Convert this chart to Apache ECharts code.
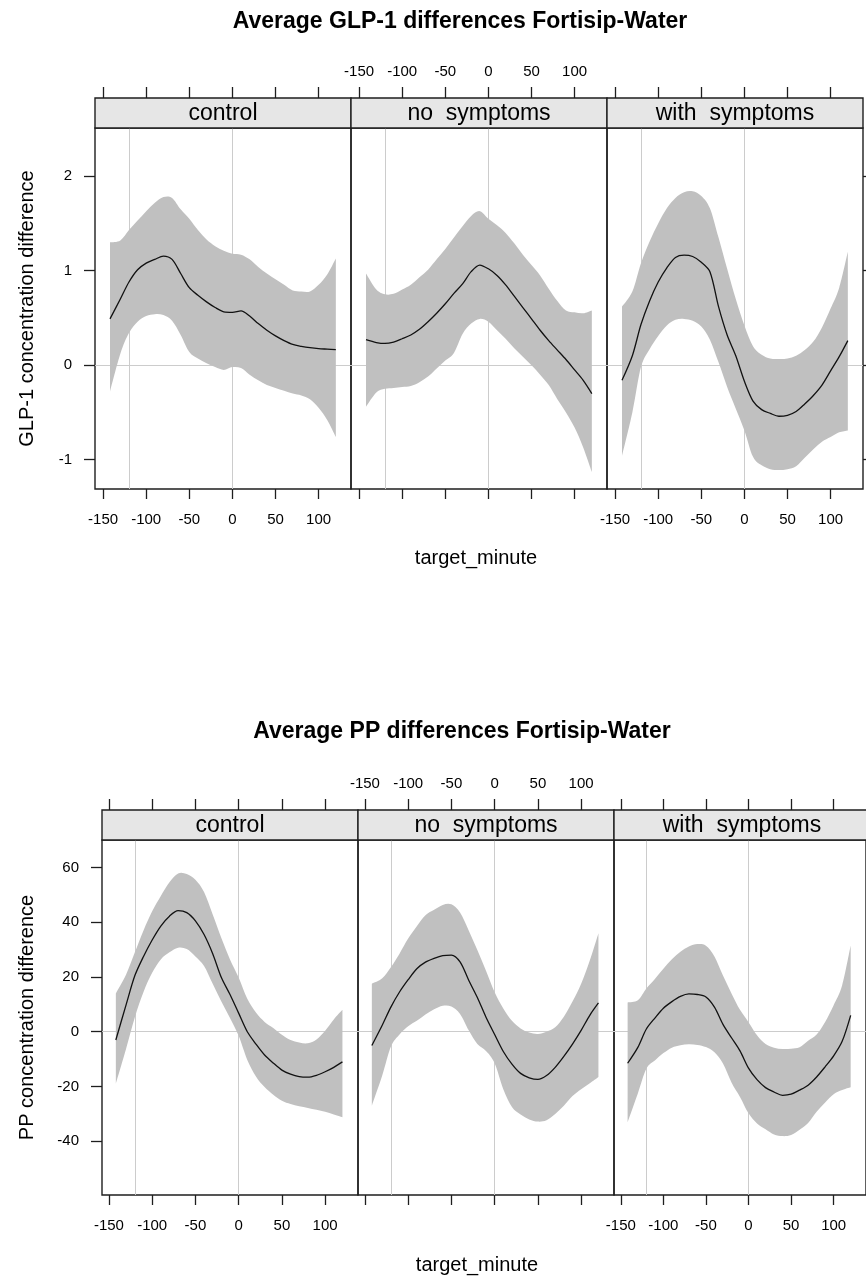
<!DOCTYPE html>
<html><head><meta charset="utf-8">
<script src="https://cdn.jsdelivr.net/npm/echarts@6/dist/echarts.min.js"></script>
<style>html,body{margin:0;padding:0;background:#fff}#c{width:866px;height:1278px}</style>
</head><body><div id="c"></div>
<script>
// ---- data ----
const X = [-142,-130,-120,-110,-100,-90,-80,-70,-60,-50,-40,-30,-20,-10,0,10,20,30,40,50,60,70,80,90,100,110,120];
const X_TICKS = [-150,-100,-50,0,50,100];
const GLP_Y_TICKS = [-1,0,1,2];
const PP_Y_TICKS = [-40,-20,0,20,40,60];
const REF_X = [-120, 0];
const REF_Y = [0];
const GROUPS = ['control', 'no  symptoms', 'with  symptoms'];

const GLP_CONTROL_MEAN = [0.49,0.70,0.88,1.01,1.08,1.12,1.155,1.12,0.97,0.82,0.74,0.67,0.61,0.565,0.56,0.575,0.52,0.44,0.37,0.31,0.26,0.22,0.20,0.185,0.175,0.17,0.165];
const GLP_CONTROL_HI   = [1.30,1.32,1.43,1.53,1.63,1.72,1.78,1.77,1.65,1.55,1.43,1.33,1.26,1.21,1.18,1.17,1.12,1.04,0.97,0.91,0.85,0.79,0.78,0.78,0.85,0.96,1.13];
const GLP_CONTROL_LO   = [-0.28,0.12,0.34,0.46,0.52,0.54,0.53,0.47,0.32,0.14,0.07,0.02,-0.02,-0.05,-0.02,-0.03,-0.10,-0.16,-0.21,-0.24,-0.27,-0.30,-0.32,-0.36,-0.45,-0.58,-0.76];

const GLP_NOSYM_MEAN = [0.27,0.24,0.23,0.245,0.28,0.32,0.38,0.46,0.55,0.65,0.76,0.86,0.99,1.06,1.02,0.95,0.85,0.73,0.61,0.49,0.37,0.26,0.16,0.06,-0.05,-0.16,-0.30];
const GLP_NOSYM_HI   = [0.97,0.80,0.75,0.755,0.80,0.85,0.93,1.01,1.12,1.23,1.35,1.47,1.58,1.63,1.55,1.48,1.40,1.29,1.17,1.06,0.95,0.81,0.68,0.58,0.56,0.55,0.58];
const GLP_NOSYM_LO   = [-0.44,-0.29,-0.25,-0.24,-0.23,-0.22,-0.18,-0.12,-0.035,0.05,0.13,0.33,0.44,0.49,0.46,0.37,0.28,0.18,0.09,0.00,-0.10,-0.21,-0.36,-0.50,-0.66,-0.87,-1.13];

const GLP_WITHSYM_MEAN = [-0.16,0.10,0.43,0.68,0.88,1.03,1.14,1.165,1.15,1.09,0.99,0.62,0.32,0.10,-0.17,-0.38,-0.47,-0.51,-0.54,-0.53,-0.49,-0.41,-0.32,-0.21,-0.06,0.09,0.26];
const GLP_WITHSYM_HI   = [0.62,0.78,1.08,1.31,1.50,1.66,1.77,1.83,1.84,1.79,1.66,1.35,1.02,0.70,0.42,0.20,0.11,0.07,0.065,0.07,0.10,0.16,0.25,0.40,0.60,0.82,1.20];
const GLP_WITHSYM_LO   = [-0.96,-0.50,-0.02,0.17,0.31,0.42,0.48,0.49,0.47,0.41,0.27,0.03,-0.23,-0.46,-0.69,-0.97,-1.06,-1.10,-1.11,-1.10,-1.07,-0.98,-0.89,-0.81,-0.76,-0.71,-0.69];

const PP_CONTROL_MEAN = [-3,10,20.5,27.5,33.5,38.6,42.2,44.2,43.5,40.5,35.5,28.5,19.8,13.6,6.8,0,-4.5,-8.5,-11.4,-14,-15.5,-16.4,-16.6,-15.9,-14.6,-13,-11];
const PP_CONTROL_HI   = [14,21,29,37,44,49.6,54.6,57.8,57.6,55.5,51,42.8,34.2,26.4,19.8,12,7,3.6,1.4,-1.1,-3,-3.9,-4.2,-2.8,0.4,4.5,8];
const PP_CONTROL_LO   = [-19,-6,5.3,14.5,21.5,26.4,29,30.7,30.2,27.5,24,17.5,11,5,-1.5,-10.3,-16.3,-20.2,-23,-25.2,-26.4,-27.2,-27.8,-28.5,-29.2,-30.2,-31.2];

const PP_NOSYM_MEAN = [-5,2.4,9,14.5,19,23,25.4,26.8,27.8,28,25.5,18.8,12.5,5.3,-1,-7.2,-11.8,-15.2,-16.8,-17.4,-16,-13,-9,-4.5,0.5,6,10.5];
const PP_NOSYM_HI   = [17.5,19.5,23.5,28.5,34,38.5,42.5,44.5,46.3,46.5,43.5,37,29.8,22.3,14.4,8.5,4,1.2,-0.3,-0.8,0,1.6,5.5,11,17.5,26,36];
const PP_NOSYM_LO   = [-27,-16,-5.5,-1,2,4,6.3,8.2,9.5,9.2,6.5,0.5,-4.5,-7,-11.5,-21,-27.5,-30.2,-32,-32.8,-32.3,-30,-27,-23.5,-21,-18.8,-16.5];

const PP_WITHSYM_MEAN = [-11.5,-5.7,1.0,5,8.6,11,12.9,13.8,13.6,12.7,9,2.7,-2.2,-7,-13.3,-17.5,-20.4,-22,-23.2,-22.8,-21.3,-19.5,-16.5,-12.8,-8.8,-3.5,6];
const PP_WITHSYM_HI   = [10.7,11.5,15.8,19.3,23,26.5,29.2,31.1,32,31.4,27.5,20.5,14,8,3.5,-1.3,-4.5,-5.8,-6.3,-6.2,-5.7,-3.3,-1,3.6,9.7,17,31.5];
const PP_WITHSYM_LO   = [-33,-22.5,-13.5,-10.5,-7.8,-5.8,-4.9,-4.6,-4.8,-5.6,-7.5,-11.6,-18.5,-23.8,-29.8,-33.5,-35.6,-37.5,-38.1,-37.7,-35.8,-33.3,-29.2,-25.8,-22.8,-21.3,-20.3];

// ---- layout / styles ----
const FONT = "'Liberation Sans', Arial, sans-serif";
const FRAME = '#1e1e1e';
const CHARTS = [
  { title: 'Average GLP-1 differences Fortisip-Water', titleX: 460, titleY: 22,
    yName: 'GLP-1 concentration difference', yNameX: 27,
    xName: 'target_minute', xNameX: 476, xNameY: 558,
    left: 95, top: 128, width: 256, height: 361, strip: 30,
    xMin: -159.4, xMax: 137.6, yMin: -1.31, yMax: 2.51, yTicks: GLP_Y_TICKS,
    panels: [[GLP_CONTROL_LO, GLP_CONTROL_HI, GLP_CONTROL_MEAN],
             [GLP_NOSYM_LO, GLP_NOSYM_HI, GLP_NOSYM_MEAN],
             [GLP_WITHSYM_LO, GLP_WITHSYM_HI, GLP_WITHSYM_MEAN]] },
  { title: 'Average PP differences Fortisip-Water', titleX: 462, titleY: 732,
    yName: 'PP concentration difference', yNameX: 27,
    xName: 'target_minute', xNameX: 477, xNameY: 1265,
    left: 102, top: 840, width: 256, height: 355, strip: 30,
    xMin: -158, xMax: 138, yMin: -59.6, yMax: 70, yTicks: PP_Y_TICKS,
    panels: [[PP_CONTROL_LO, PP_CONTROL_HI, PP_CONTROL_MEAN],
             [PP_NOSYM_LO, PP_NOSYM_HI, PP_NOSYM_MEAN],
             [PP_WITHSYM_LO, PP_WITHSYM_HI, PP_WITHSYM_MEAN]] }
];

// Catmull-Rom curve through pixel points -> SVG path commands (no leading M)
function curveCmds(pts) {
  let d = '';
  for (let i = 0; i < pts.length - 1; i++) {
    const p0 = pts[Math.max(i - 1, 0)], p1 = pts[i], p2 = pts[i + 1], p3 = pts[Math.min(i + 2, pts.length - 1)];
    const c1x = p1[0] + (p2[0] - p0[0]) / 6, c1y = p1[1] + (p2[1] - p0[1]) / 6;
    const c2x = p2[0] - (p3[0] - p1[0]) / 6, c2y = p2[1] - (p3[1] - p1[1]) / 6;
    d += ' C' + c1x.toFixed(2) + ',' + c1y.toFixed(2) + ' ' + c2x.toFixed(2) + ',' + c2y.toFixed(2) + ' ' + p2[0].toFixed(2) + ',' + p2[1].toFixed(2);
  }
  return d;
}

function bandRenderItem(params, api) {
  if (params.dataIndexInside !== 0) return null;
  const n = params.dataInsideLength;
  const up = [], lo = [];
  for (let i = 0; i < n; i++) {
    const x = api.value(0, i);
    up.push(api.coord([x, api.value(2, i)]));
    lo.push(api.coord([x, api.value(1, i)]));
  }
  lo.reverse();
  const d = 'M' + up[0][0] + ',' + up[0][1] + curveCmds(up) +
            ' L' + lo[0][0] + ',' + lo[0][1] + curveCmds(lo) + ' Z';
  return { type: 'path', shape: { pathData: d }, style: { fill: '#c0c0c0', stroke: null } };
}

const grid = [], xAxis = [], yAxis = [], series = [], graphic = [];
const topAxes = [];
let g = 0;
CHARTS.forEach((c) => {
  graphic.push({ type: 'text', x: c.titleX, y: c.titleY,
    style: { text: c.title, font: 'bold 23px ' + FONT, fill: '#000', align: 'center', verticalAlign: 'middle' } });
  graphic.push({ type: 'text', x: c.yNameX, y: c.top + c.height / 2, rotation: Math.PI / 2,
    style: { text: c.yName, font: '20px ' + FONT, fill: '#000', align: 'center', verticalAlign: 'middle' } });
  graphic.push({ type: 'text', x: c.xNameX, y: c.xNameY,
    style: { text: c.xName, font: '20px ' + FONT, fill: '#000', align: 'center', verticalAlign: 'middle' } });
  c.panels.forEach((pd, p) => {
    const left = c.left + p * c.width;
    grid.push({ left: left, top: c.top, width: c.width, height: c.height,
      show: true, borderColor: FRAME, borderWidth: 1.4, backgroundColor: 'transparent', containLabel: false });
    graphic.push({ type: 'rect', shape: { x: left, y: c.top - c.strip, width: c.width, height: c.strip },
      style: { fill: '#e6e6e6', stroke: FRAME, lineWidth: 1.4 }, z: 10 });
    graphic.push({ type: 'text', x: left + c.width / 2, y: c.top - c.strip / 2 + 1, z: 11,
      style: { text: GROUPS[p], font: '23px ' + FONT, fill: '#000', align: 'center', verticalAlign: 'middle' } });
    xAxis.push({ type: 'value', gridIndex: g, min: c.xMin, max: c.xMax, position: 'bottom',
      axisLine: { show: false, onZero: false }, splitLine: { show: false },
      axisTick: { show: true, length: 10, customValues: X_TICKS, lineStyle: { color: FRAME, width: 1.3 } },
      axisLabel: { show: p !== 1, customValues: X_TICKS, margin: 23, fontSize: 15, color: '#000', fontFamily: FONT } });
    topAxes.push({ type: 'value', gridIndex: g, min: c.xMin, max: c.xMax, position: 'top', offset: c.strip,
      axisLine: { show: false, onZero: false }, splitLine: { show: false },
      axisTick: { show: true, length: 11, customValues: X_TICKS, lineStyle: { color: FRAME, width: 1.3 } },
      axisLabel: { show: p === 1, customValues: X_TICKS, margin: 19, fontSize: 15, color: '#000', fontFamily: FONT } });
    yAxis.push({ type: 'value', gridIndex: g, min: c.yMin, max: c.yMax, position: p === 2 ? 'right' : 'left',
      axisLine: { show: false, onZero: false }, splitLine: { show: false },
      axisTick: { show: p !== 1, length: 11, customValues: c.yTicks, lineStyle: { color: FRAME, width: 1.3 } },
      axisLabel: { show: p === 0, customValues: c.yTicks, margin: 23, fontSize: 15, color: '#000', fontFamily: FONT } });
    const lo = pd[0], hi = pd[1], mean = pd[2];
    series.push({ type: 'custom', xAxisIndex: g, yAxisIndex: g, z: 2, silent: true, clip: true,
      data: X.map((x, i) => [x, lo[i], hi[i]]),
      encode: { x: 0, y: [1, 2] },
      renderItem: bandRenderItem });
    series.push({ type: 'line', xAxisIndex: g, yAxisIndex: g,
      data: X.map((x, i) => [x, mean[i]]), symbol: 'none', smooth: 0.3, z: 4,
      lineStyle: { color: '#111', width: 1.3 }, silent: true,
      markLine: { silent: true, symbol: ['none', 'none'], label: { show: false }, z: 1,
        lineStyle: { color: '#cccccc', width: 1, type: 'solid' },
        data: REF_X.map(v => ({ xAxis: v })).concat(REF_Y.map(v => ({ yAxis: v }))) } });
    g++;
  });
});

const chart = echarts.init(document.getElementById('c'), null, { renderer: 'canvas' });
chart.setOption({
  animation: false,
  backgroundColor: '#fff',
  textStyle: { fontFamily: FONT },
  grid: grid,
  xAxis: xAxis.concat(topAxes),
  yAxis: yAxis,
  series: series,
  graphic: graphic
});
</script>
</body></html>
